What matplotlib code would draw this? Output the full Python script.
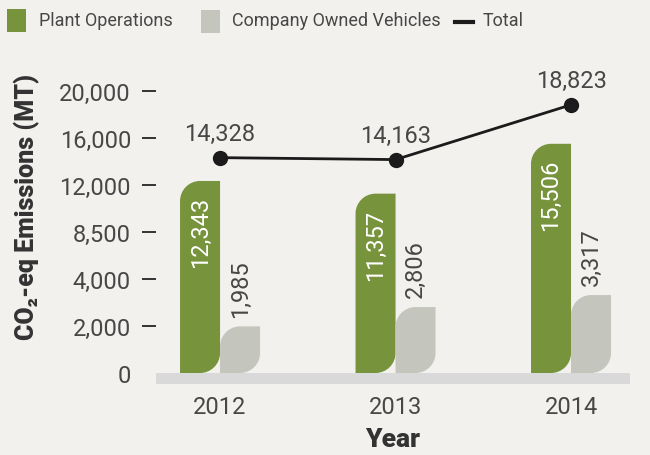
import numpy as np
import matplotlib
matplotlib.use('Agg')
import matplotlib.pyplot as plt
from matplotlib.path import Path
from matplotlib.patches import PathPatch, Rectangle
from matplotlib.transforms import IdentityTransform
from matplotlib.lines import Line2D

# ---- data ----
years = ['2012', '2013', '2014']
plant_ops = [12343, 11357, 15506]
vehicles = [1985, 2806, 3317]
total = [14328, 14163, 18823]
ytick_values = [0, 2000, 4000, 8500, 12000, 16000, 20000]
ytick_labels = ['0', '2,000', '4,000', '8,500', '12,000', '16,000', '20,000']

GREEN = '#77933C'
GREY = '#C4C6BE'
BAND = '#D9D9D9'
BG = '#F2F1EE'
TEXT = '#474747'
DARK = '#333333'
LINE = '#1B1B1B'

plt.rcParams['font.family'] = ['Roboto', 'DejaVu Sans']

W, H = 650, 456
fig = plt.figure(figsize=(W / 100, H / 100), dpi=100, facecolor=BG)
ax = fig.add_axes([156 / W, 1 - 374 / H, 474 / W, 282 / H])
ax.set_facecolor(BG)

# y axis: ticks are evenly spaced, values between them are linear
tick_idx = np.arange(len(ytick_values), dtype=float)


def fwd(v):
    return np.interp(v, ytick_values, tick_idx)


def inv(i):
    return np.interp(i, tick_idx, ytick_values)


ax.set_yscale('function', functions=(fwd, inv))
ax.set_ylim(0, 20000)
ax.set_xlim(-0.365, 2.336)

x = np.arange(len(years))
bw = 0.228

green_bars = ax.bar(x - bw / 2, plant_ops, bw, visible=False)
grey_bars = ax.bar(x + bw / 2, vehicles, bw, visible=False)


def leaf_path(x0, y0, x1, y1, r):
    """Bar outline with rounded top-left and bottom-right corners (pixel coords)."""
    r = min(r, (y1 - y0) / 2, (x1 - x0) / 2)
    k = 0.5523 * r
    verts = [(x0, y0), (x1 - r, y0), (x1 - r + k, y0), (x1, y0 + r - k), (x1, y0 + r),
             (x1, y1), (x0 + r, y1), (x0 + r - k, y1), (x0, y1 - r + k), (x0, y1 - r),
             (x0, y0)]
    codes = [Path.MOVETO, Path.LINETO, Path.CURVE4, Path.CURVE4, Path.CURVE4,
             Path.LINETO, Path.LINETO, Path.CURVE4, Path.CURVE4, Path.CURVE4,
             Path.CLOSEPOLY]
    return Path(verts, codes)


def draw_leaves(bars, color):
    for b in bars:
        bx, bwid, bh = b.get_x(), b.get_width(), b.get_height()
        (px0, py0), (px1, py1) = ax.transData.transform([(bx, 0), (bx + bwid, bh)])
        patch = PathPatch(leaf_path(px0, py0, px1, py1, 20), facecolor=color,
                          edgecolor='none', transform=IdentityTransform(), zorder=2)
        ax.add_patch(patch)


draw_leaves(green_bars, GREEN)
draw_leaves(grey_bars, GREY)

# base band under the bars
ax.add_patch(Rectangle((0, -11 / 282), 1, 11 / 282, transform=ax.transAxes,
                       facecolor=BAND, edgecolor='none', clip_on=False, zorder=1))

# value labels
for xi, v in zip(x, plant_ops):
    ax.annotate(f'{v:,}', (xi - bw / 2, v), xytext=(0, -11), textcoords='offset points',
                rotation=90, ha='center', va='top', color='white', fontsize=17, zorder=4)
for xi, v in zip(x, vehicles):
    ax.annotate(f'{v:,}', (xi + bw / 2, v), xytext=(0, 7), textcoords='offset points',
                rotation=90, ha='center', va='bottom', color=TEXT, fontsize=17, zorder=4)

# total line
ax.plot(x, total, color=LINE, lw=2, marker='o', ms=10, zorder=5, clip_on=False)
for xi, v in zip(x, total):
    ax.annotate(f'{v:,}', (xi, v), xytext=(0, 9), textcoords='offset points',
                ha='center', va='bottom', color=TEXT, fontsize=17, zorder=6)

# axes styling
for s in ax.spines.values():
    s.set_visible(False)
ax.set_yticks(ytick_values, ytick_labels)
ax.yaxis.set_minor_locator(matplotlib.ticker.NullLocator())
ax.tick_params(axis='y', length=10, width=1.4, color=DARK, pad=8,
               labelsize=17, labelcolor=TEXT)
ax.yaxis.get_major_ticks()[0].tick1line.set_visible(False)
ax.set_xticks(x, years)
ax.tick_params(axis='x', length=0, pad=16, labelsize=17, labelcolor=TEXT)

fig.text(27 / W, 1 - 207 / H, 'CO₂-eq Emissions (MT)', rotation=90, ha='center',
         va='center', fontsize=18, fontweight='heavy', color=DARK)
fig.text(393 / W, 1 - 440 / H, 'Year', ha='center', va='center', fontsize=19,
         fontweight='heavy', color=DARK)

# legend across the top
fig.add_artist(Rectangle((7 / W, 1 - 33 / H), 19 / W, 23 / H, transform=fig.transFigure,
                         facecolor=GREEN, edgecolor='none'))
fig.text(39 / W, 1 - 21 / H, 'Plant Operations', ha='left', va='center', fontsize=13,
         color=TEXT)
fig.add_artist(Rectangle((201 / W, 1 - 34 / H), 19 / W, 23 / H, transform=fig.transFigure,
                         facecolor=GREY, edgecolor='none'))
fig.text(232 / W, 1 - 21 / H, 'Company Owned Vehicles', ha='left', va='center',
         fontsize=13, color=TEXT)
fig.add_artist(Line2D([455 / W, 473 / W], [1 - 23 / H, 1 - 23 / H], transform=fig.transFigure,
                      color=LINE, lw=3))
fig.text(483 / W, 1 - 21 / H, 'Total', ha='left', va='center', fontsize=13, color=TEXT)

fig.savefig('out.png', dpi=100, facecolor=BG)
